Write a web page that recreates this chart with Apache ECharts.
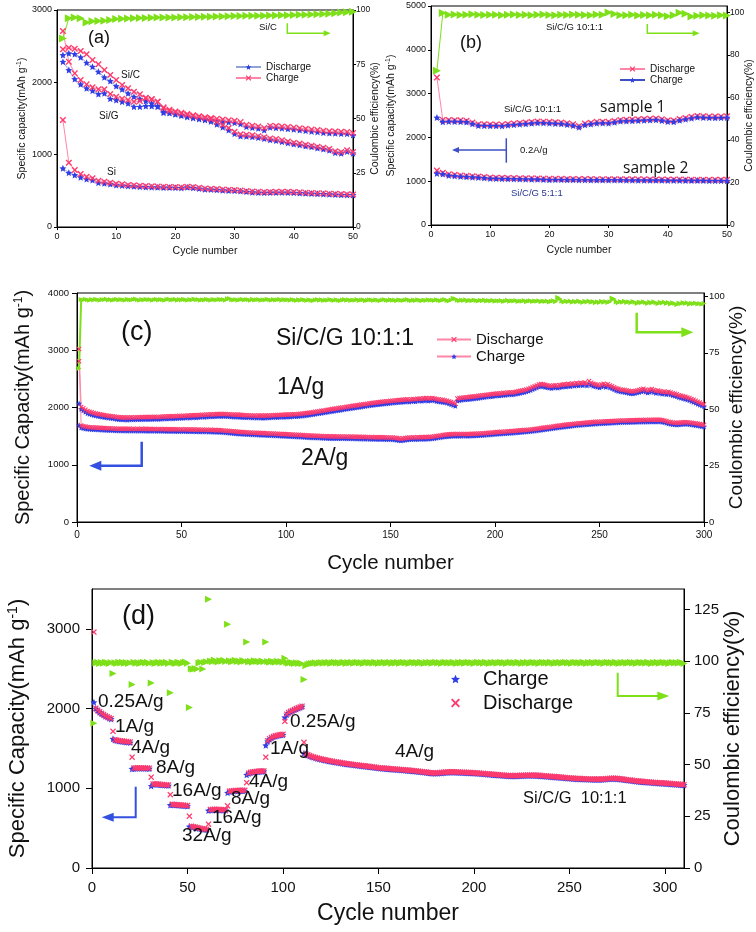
<!DOCTYPE html>
<html><head><meta charset="utf-8">
<script src="https://cdn.jsdelivr.net/npm/echarts@6/dist/echarts.min.js"></script>
<style>html,body{margin:0;padding:0;background:#fff}#c{width:756px;height:932px}</style>
</head><body><div id="c"></div>
<script>
// ---------------- DATA ----------------
// (a) 50 cycles
const a_SiC_dis=[2378,2401,2392,2346,2272,2217,2147,2069,2018,1949,1903,1848,1802,1774,1742,1710,1673,1594,1585,1565,1548,1530,1515,1500,1490,1478,1468,1458,1450,1442,1425,1387,1375,1365,1341,1378,1372,1366,1358,1350,1340,1332,1322,1315,1304,1298,1295,1292,1290,1272];
const a_SiC_chg=[2456,2479,2465,2433,2387,2309,2249,2170,2101,2032,1963,1917,1871,1834,1788,1765,1733,1654,1620,1598,1580,1562,1546,1530,1518,1506,1495,1485,1476,1468,1450,1412,1400,1390,1368,1398,1395,1390,1382,1374,1365,1357,1348,1340,1330,1324,1320,1316,1314,1298];
const a_SiG_dis=[2286,2170,2046,1972,1917,1885,1839,1848,1774,1756,1733,1710,1664,1664,1673,1673,1664,1581,1575,1558,1540,1522,1508,1494,1480,1460,1420,1380,1340,1290,1258,1255,1248,1236,1222,1205,1196,1180,1162,1147,1135,1120,1108,1092,1078,1060,1028,1018,1045,1018];
const a_SiG_chg=[2710,2286,2124,2032,1972,1931,1903,1903,1839,1802,1774,1756,1733,1742,1779,1765,1733,1640,1605,1588,1570,1552,1538,1524,1508,1488,1450,1410,1370,1318,1282,1276,1268,1256,1240,1225,1216,1200,1182,1166,1153,1138,1124,1110,1095,1078,1048,1036,1062,1036];
const a_Si_dis=[811,751,719,687,664,650,613,604,594,581,575,568,562,557,553,550,548,546,545,544,540,548,542,532,521,520,515,508,505,502,496,488,480,477,475,476,477,478,477,475,470,466,462,460,456,452,449,446,444,442];
const a_Si_chg=[1479,889,788,733,696,673,641,627,613,599,590,582,576,570,566,562,559,556,554,552,550,557,552,542,532,530,525,518,514,511,505,497,490,486,484,485,486,487,486,484,479,475,471,468,465,461,458,455,452,450];
const a_CE=[86.9,96.2,96.5,96.2,94.2,94.8,94.9,95.1,95.4,95.8,96.0,96.1,96.2,96.3,96.3,96.4,96.5,96.5,96.6,96.6,96.7,96.7,96.8,96.8,96.9,96.9,97.0,97.0,97.1,97.2,97.2,97.3,97.3,97.4,97.4,97.5,97.5,97.6,97.6,97.7,97.8,97.8,97.9,98.0,98.1,98.3,98.5,98.8,99.0,99.2];

// (b) 50 cycles
const b_S1_chg=[2454,2356,2365,2363,2360,2352,2310,2272,2268,2264,2265,2262,2280,2290,2302,2310,2322,2333,2330,2325,2318,2310,2295,2272,2234,2287,2305,2325,2326,2325,2345,2371,2374,2378,2385,2392,2396,2401,2385,2363,2356,2390,2416,2440,2462,2455,2450,2447,2450,2454];
const b_S1_dis=[3366,2400,2395,2392,2390,2382,2342,2300,2298,2294,2295,2292,2308,2320,2330,2340,2350,2362,2360,2355,2346,2340,2325,2302,2262,2315,2335,2355,2356,2355,2375,2400,2404,2408,2415,2420,2425,2430,2414,2392,2386,2420,2445,2470,2490,2485,2480,2477,2480,2484];
const b_S2_chg=[1178,1163,1132,1120,1109,1100,1093,1087,1075,1064,1060,1057,1054,1052,1049,1047,1045,1042,1039,1033,1035,1034,1032,1031,1030,1029,1028,1027,1027,1026,1026,1025,1024,1023,1022,1022,1021,1020,1019,1018,1018,1017,1016,1015,1015,1014,1013,1012,1012,1011];
const b_S2_dis=[1246,1195,1160,1145,1132,1122,1114,1107,1096,1085,1081,1077,1074,1072,1069,1067,1065,1062,1059,1054,1055,1054,1052,1051,1050,1049,1048,1047,1047,1046,1046,1045,1044,1043,1042,1042,1041,1040,1039,1038,1038,1037,1036,1035,1035,1034,1033,1032,1032,1031];
const b_CE=[72.5,99.7,98.9,99.0,98.8,98.9,99.1,98.9,98.8,98.9,98.9,98.7,98.9,99.0,98.8,98.9,98.7,98.9,99.0,98.8,98.7,98.9,98.8,99.0,98.9,98.8,98.7,99.0,98.9,100.0,99.2,98.6,98.7,98.9,98.5,98.8,98.7,98.9,98.6,98.2,98.7,99.8,99.4,98.1,98.4,98.6,98.5,98.4,98.6,98.5];

// (c) 300 cycles
const c_1A_chg=[2070,1975,1950,1925,1900,1890,1878,1868,1860,1852,
1845,1838,1832,1828,1823,1818,1812,1806,1800,1795,
1793,1790,1792,1788,1791,1794,1790,1793,1796,1794,
1797,1795,1799,1796,1800,1798,1802,1799,1800,1803,
1805,1808,1806,1810,1812,1809,1813,1815,1818,1817,
1820,1822,1825,1823,1828,1830,1827,1832,1835,1838,
1836,1840,1842,1845,1843,1848,1850,1852,1849,1852,
1850,1848,1845,1842,1840,1838,1840,1836,1833,1830,
1828,1830,1826,1824,1826,1822,1825,1823,1820,1823,
1826,1824,1828,1830,1833,1831,1835,1838,1836,1840,
1842,1840,1845,1848,1846,1850,1855,1858,1862,1867,
1872,1878,1883,1890,1895,1900,1906,1912,1918,1925,
1931,1936,1942,1948,1954,1958,1964,1970,1976,1982,
1988,1993,1998,2004,2009,2015,2020,2026,2031,2038,
2042,2046,2051,2055,2060,2064,2068,2071,2075,2080,
2084,2086,2090,2094,2096,2099,2103,2106,2100,2110,
2113,2108,2118,2121,2116,2124,2128,2120,2126,2130,
2122,2112,2106,2100,2098,2092,2084,2070,2058,2045,
2030,2120,2128,2134,2138,2142,2145,2150,2155,2158,
2162,2168,2172,2178,2182,2188,2192,2196,2200,2205,
2210,2208,2215,2220,2218,2225,2230,2227,2232,2240,
2246,2255,2262,2270,2280,2292,2305,2320,2335,2350,
2365,2375,2368,2360,2352,2345,2340,2348,2352,2345,
2355,2362,2370,2366,2378,2372,2384,2380,2392,2385,
2398,2390,2402,2385,2410,2395,2378,2370,2362,2350,
2365,2378,2360,2372,2350,2335,2318,2300,2290,2280,
2275,2270,2262,2255,2248,2245,2252,2262,2270,2282,
2290,2275,2260,2272,2285,2270,2255,2262,2250,2240,
2245,2232,2240,2228,2215,2205,2195,2180,2170,2160,
2150,2140,2128,2112,2098,2082,2065,2050,2035,2020];
const c_1A_dis=[3020,2010,1988,1962,1938,1925,1915,1905,1896,1888,
1880,1874,1868,1862,1858,1853,1848,1842,1836,1830,
1828,1826,1827,1824,1826,1829,1826,1828,1831,1830,
1832,1831,1834,1832,1836,1834,1838,1835,1836,1839,
1841,1843,1842,1846,1848,1845,1849,1851,1854,1853,
1856,1858,1861,1859,1864,1866,1863,1868,1871,1874,
1872,1876,1878,1881,1879,1884,1886,1888,1885,1888,
1886,1884,1881,1878,1876,1874,1876,1872,1869,1866,
1864,1866,1862,1860,1862,1858,1861,1859,1856,1859,
1862,1860,1864,1866,1869,1867,1871,1874,1872,1876,
1878,1876,1881,1884,1882,1886,1891,1894,1898,1903,
1908,1914,1919,1926,1931,1936,1942,1948,1954,1961,
1967,1972,1978,1984,1990,1994,2000,2006,2012,2018,
2024,2029,2034,2040,2045,2051,2056,2062,2067,2074,
2078,2082,2087,2091,2096,2100,2104,2107,2111,2116,
2120,2122,2126,2130,2132,2135,2139,2142,2136,2146,
2149,2144,2154,2157,2152,2160,2164,2156,2162,2166,
2158,2148,2142,2136,2134,2128,2120,2106,2094,2081,
2066,2156,2164,2170,2174,2178,2181,2186,2191,2194,
2198,2204,2208,2214,2218,2224,2228,2232,2236,2241,
2246,2244,2251,2256,2254,2261,2266,2263,2268,2276,
2282,2291,2298,2306,2316,2328,2341,2356,2371,2386,
2401,2411,2404,2396,2388,2381,2376,2384,2388,2381,
2391,2398,2406,2402,2414,2408,2420,2416,2428,2421,
2434,2426,2438,2421,2462,2431,2414,2406,2398,2386,
2401,2414,2396,2408,2386,2371,2354,2336,2326,2316,
2311,2306,2298,2291,2284,2281,2288,2298,2306,2318,
2326,2311,2296,2308,2321,2306,2291,2298,2286,2276,
2281,2268,2276,2264,2251,2241,2231,2216,2206,2196,
2186,2176,2164,2148,2134,2118,2101,2086,2071,2056];
const c_2A_chg=[1690,1650,1640,1632,1628,1625,1622,1620,1618,1616,
1614,1612,1610,1608,1606,1605,1603,1602,1600,1598,
1600,1597,1599,1596,1598,1595,1597,1594,1596,1595,
1597,1594,1596,1593,1595,1592,1594,1591,1593,1592,
1590,1592,1589,1591,1588,1590,1587,1589,1586,1588,
1585,1587,1584,1586,1583,1585,1582,1584,1580,1582,
1579,1581,1577,1579,1575,1577,1573,1575,1570,1568,
1565,1562,1558,1555,1552,1548,1545,1542,1540,1538,
1536,1534,1532,1530,1528,1527,1525,1523,1522,1520,
1518,1516,1515,1513,1511,1510,1508,1506,1505,1503,
1501,1499,1497,1495,1493,1491,1489,1487,1485,1482,
1480,1478,1477,1475,1474,1472,1471,1469,1468,1466,
1465,1464,1465,1463,1464,1462,1463,1461,1462,1460,
1461,1459,1460,1457,1458,1455,1456,1453,1454,1451,
1452,1450,1451,1449,1450,1448,1449,1447,1446,1445,
1443,1440,1436,1430,1425,1428,1435,1440,1444,1446,
1448,1447,1449,1450,1452,1451,1453,1455,1457,1460,
1465,1470,1476,1482,1488,1493,1497,1500,1503,1505,
1506,1504,1506,1505,1507,1508,1506,1508,1509,1510,
1512,1514,1516,1518,1521,1524,1527,1530,1534,1538,
1540,1542,1544,1546,1549,1552,1555,1558,1561,1564,
1567,1570,1573,1576,1579,1582,1586,1590,1595,1600,
1605,1610,1615,1620,1625,1630,1635,1640,1645,1650,
1655,1660,1665,1670,1674,1678,1682,1686,1690,1694,
1697,1700,1703,1706,1709,1712,1715,1718,1720,1722,
1724,1726,1728,1730,1732,1734,1736,1738,1740,1742,
1743,1744,1745,1746,1747,1748,1749,1750,1751,1752,
1752,1753,1753,1754,1754,1755,1755,1756,1756,1750,
1742,1732,1722,1714,1708,1704,1702,1704,1708,1712,
1714,1712,1708,1702,1697,1692,1686,1680,1674,1668];
const c_2A_dis=[2810,1685,1674,1666,1661,1657,1654,1651,1649,1647,
1645,1643,1641,1639,1637,1636,1634,1633,1631,1629,
1631,1628,1630,1627,1629,1626,1628,1625,1627,1626,
1628,1625,1627,1624,1626,1623,1625,1622,1624,1623,
1621,1623,1620,1622,1619,1621,1618,1620,1617,1619,
1616,1618,1615,1617,1614,1616,1613,1615,1611,1613,
1610,1612,1608,1610,1606,1608,1604,1606,1601,1599,
1596,1593,1589,1586,1583,1579,1576,1573,1571,1569,
1567,1565,1563,1561,1559,1558,1556,1554,1553,1551,
1549,1547,1546,1544,1542,1541,1539,1537,1536,1534,
1532,1530,1528,1526,1524,1522,1520,1518,1516,1513,
1511,1509,1508,1506,1505,1503,1502,1500,1499,1497,
1496,1495,1496,1494,1495,1493,1494,1492,1493,1491,
1492,1490,1491,1488,1489,1486,1487,1484,1485,1482,
1483,1481,1482,1480,1481,1479,1480,1478,1477,1476,
1474,1471,1467,1461,1456,1459,1466,1471,1475,1477,
1479,1478,1480,1481,1483,1482,1484,1486,1488,1491,
1496,1501,1507,1513,1519,1524,1528,1531,1534,1536,
1537,1535,1537,1536,1538,1539,1537,1539,1540,1541,
1543,1545,1547,1549,1552,1555,1558,1561,1565,1569,
1571,1572,1575,1577,1579,1583,1585,1589,1591,1595,
1597,1601,1603,1607,1609,1613,1616,1621,1625,1631,
1635,1641,1645,1651,1655,1661,1665,1671,1675,1681,
1685,1691,1695,1701,1704,1709,1712,1717,1720,1725,
1727,1731,1733,1737,1739,1743,1745,1749,1750,1753,
1754,1757,1758,1761,1762,1765,1766,1769,1770,1773,
1773,1775,1775,1777,1777,1779,1779,1781,1781,1783,
1782,1784,1783,1785,1784,1786,1785,1787,1786,1781,
1772,1763,1752,1745,1738,1735,1732,1735,1738,1743,
1744,1743,1738,1733,1727,1723,1716,1711,1704,1699];
const c_CE=[68.0,98.6,98.4,98.7,98.5,98.3,98.6,98.4,98.7,98.5,
98.3,98.6,98.5,98.8,98.4,98.6,98.3,98.5,98.7,98.4,
98.6,98.5,98.3,98.7,98.5,98.4,98.6,98.8,98.5,98.3,
98.6,98.4,98.7,98.5,98.6,98.3,98.5,98.7,98.4,98.6,
98.5,98.3,98.6,98.8,98.4,98.5,98.7,98.3,98.6,98.4,
98.7,98.5,98.3,98.6,98.4,98.8,98.5,98.6,98.3,98.5,
98.4,98.7,98.5,98.3,98.6,98.5,98.4,98.7,98.5,98.6,
98.3,98.9,99.1,98.5,98.4,98.6,98.3,98.5,98.7,98.4,
98.6,98.5,98.3,98.7,98.4,98.5,98.6,98.3,98.5,98.4,
98.7,98.5,98.3,98.6,98.4,98.5,98.7,98.3,98.6,98.4,
98.5,98.3,98.6,98.4,98.2,98.5,98.3,98.6,98.4,98.2,
98.5,98.3,98.1,98.4,98.6,98.3,98.5,98.2,98.4,98.3,
98.6,98.4,98.2,98.5,98.3,98.1,98.4,98.6,98.3,98.5,
98.2,98.4,98.3,98.6,98.2,98.4,98.5,98.1,98.3,98.5,
98.4,98.2,98.5,98.3,98.1,98.4,98.6,98.3,98.2,98.5,
98.3,98.4,98.1,98.5,98.3,98.2,98.4,98.6,98.3,98.1,
98.4,98.2,98.5,98.3,98.1,98.4,98.2,98.5,98.3,98.4,
98.2,98.5,98.3,98.1,98.4,98.6,98.2,98.0,98.4,99.2,
98.9,98.3,98.1,98.4,98.2,98.5,98.0,98.3,98.1,98.4,
98.2,97.9,98.3,98.1,98.4,97.9,98.2,98.0,98.3,97.8,
98.1,97.9,98.2,97.7,98.0,98.3,97.8,98.1,97.9,98.2,
97.7,98.0,97.8,98.2,97.6,97.9,98.1,97.7,98.0,97.8,
98.1,97.6,97.9,97.7,98.0,97.5,97.8,98.1,97.6,99.6,
99.0,97.8,97.5,97.9,97.6,98.0,97.4,97.8,97.5,97.9,
97.6,97.3,97.8,97.5,97.9,97.4,97.7,97.2,97.6,97.3,
97.8,97.4,97.7,97.3,97.6,99.3,98.8,97.5,97.2,97.7,
97.4,97.8,97.3,97.6,97.2,97.7,97.4,96.9,97.5,97.2,
97.6,97.3,96.8,97.5,97.1,97.6,97.2,96.7,97.4,97.1,
97.5,96.9,97.3,96.6,97.2,96.8,96.3,97.1,96.7,97.3,
96.8,97.2,96.5,97.0,96.7,97.1,96.6,96.9,96.5,96.8];

// (d) 310 cycles
const d_chg=[2080,2000,1975,1955,1935,1920,1905,1893,1880,1870,
1620,1605,1598,1594,1590,1587,1584,1581,1578,1575,
1245,1248,1250,1250,1251,1250,1250,1249,1248,1247,
1030,1048,1050,1048,1046,1044,1042,1040,1038,1036,
790,795,793,790,788,786,784,782,780,778,
520,518,513,508,502,497,492,488,484,480,
720,728,730,731,730,729,728,727,726,725,
945,958,962,965,966,967,968,968,969,970,
1170,1185,1195,1200,1204,1207,1209,1211,1212,1213,
1540,1590,1615,1632,1645,1653,1660,1665,1669,1672,
1890,1925,1945,1960,1972,1984,1995,2005,2015,2025,
1440,1425,1415,1405,1396,1388,1381,1374,1368,1362,
1357,1352,1347,1342,1337,1333,1329,1325,1321,1317,
1313,1309,1306,1302,1299,1296,1293,1290,1287,1284,
1281,1278,1275,1272,1269,1266,1263,1260,1257,1254,
1251,1249,1247,1245,1243,1241,1239,1237,1235,1233,
1231,1229,1227,1225,1223,1221,1219,1217,1215,1212,
1209,1206,1203,1200,1197,1194,1191,1189,1188,1188,
1189,1191,1193,1195,1197,1199,1200,1201,1201,1200,
1199,1198,1197,1196,1195,1194,1193,1192,1191,1190,
1188,1186,1184,1182,1180,1178,1176,1174,1172,1170,
1168,1166,1164,1162,1160,1158,1156,1155,1154,1153,
1153,1154,1155,1156,1157,1158,1159,1159,1160,1160,
1160,1159,1158,1157,1155,1153,1151,1149,1147,1145,
1143,1141,1139,1137,1135,1133,1131,1129,1127,1125,
1123,1121,1119,1118,1117,1116,1115,1114,1113,1112,
1111,1110,1110,1109,1109,1109,1110,1112,1114,1117,
1119,1120,1121,1120,1118,1115,1112,1109,1106,1103,
1100,1097,1094,1091,1088,1085,1083,1081,1079,1077,
1075,1073,1071,1069,1067,1065,1063,1062,1061,1060,
1058,1056,1054,1052,1050,1048,1046,1044,1042,1040];
const d_dis=[2960,2005,1980,1960,1940,1925,1910,1898,1885,1875,
1715,1610,1603,1599,1595,1592,1589,1586,1583,1580,
1390,1253,1255,1255,1256,1255,1255,1254,1253,1252,
1140,1053,1055,1053,1051,1049,1047,1045,1043,1041,
920,800,798,795,793,791,789,787,785,783,
650,525,518,513,507,502,497,493,489,485,
550,733,735,736,735,734,733,732,731,730,
780,963,967,970,971,972,973,973,974,975,
1070,1190,1200,1205,1209,1212,1214,1216,1217,1218,
1390,1595,1620,1637,1650,1658,1665,1670,1674,1677,
1840,1930,1950,1965,1977,1989,2000,2010,2020,2030,
1576,1430,1420,1410,1401,1393,1386,1379,1373,1367,
1362,1358,1352,1347,1343,1338,1334,1331,1326,1322,
1318,1315,1311,1307,1305,1301,1298,1296,1292,1289,
1286,1284,1280,1277,1275,1271,1268,1266,1262,1259,
1256,1255,1252,1250,1249,1246,1244,1243,1240,1238,
1236,1235,1232,1230,1229,1226,1224,1223,1220,1217,
1214,1212,1208,1205,1203,1199,1196,1195,1193,1193,
1194,1197,1198,1200,1203,1204,1205,1207,1206,1205,
1204,1204,1202,1201,1201,1199,1198,1198,1196,1195,
1193,1192,1189,1187,1186,1183,1181,1180,1177,1175,
1173,1172,1169,1167,1166,1163,1161,1161,1159,1158,
1158,1160,1160,1161,1163,1163,1164,1165,1165,1165,
1165,1165,1163,1162,1161,1158,1156,1155,1152,1150,
1148,1147,1144,1142,1141,1138,1136,1135,1132,1130,
1128,1127,1124,1123,1123,1121,1120,1120,1118,1117,
1116,1116,1115,1114,1115,1114,1115,1118,1119,1122,
1124,1126,1126,1125,1124,1120,1117,1115,1111,1108,
1105,1103,1099,1096,1094,1090,1088,1087,1084,1082,
1080,1079,1076,1074,1073,1070,1068,1068,1066,1065,
1063,1062,1059,1057,1056,1053,1051,1050,1047,1045];
const d_CE=[70.0,99.2,99.5,99.0,99.4,99.1,99.6,99.3,99.0,99.4,
94.1,99.3,99.0,99.5,99.2,99.6,99.1,99.4,99.0,99.3,
88.8,99.5,99.1,99.4,99.0,99.3,99.6,99.2,99.5,99.1,
89.5,99.4,99.0,99.3,99.6,99.1,99.4,99.2,99.5,99.0,
84.8,99.6,99.2,99.0,99.5,99.3,98.9,99.4,99.7,99.1,
77.7,96.4,96.2,96.5,96.3,99.2,99.6,96.3,99.4,99.8,
130.0,100.2,99.8,100.6,100.1,99.7,100.4,100.0,100.5,99.9,
118.0,100.3,99.8,100.1,100.5,99.9,100.2,99.7,100.4,100.0,
109.4,99.8,100.1,99.6,100.3,99.9,100.0,99.7,100.2,99.8,
109.4,99.9,99.6,100.1,99.8,99.5,100.0,99.7,99.9,99.6,
101.5,99.4,99.1,99.5,99.2,98.9,99.3,99.0,99.2,98.8,
91.2,97.9,98.5,98.8,99.0,99.1,99.3,99.0,99.2,99.4,
99.1,99.4,99.2,99.5,99.0,99.3,99.6,99.2,99.4,99.1,
99.3,99.5,99.0,99.4,99.2,99.6,99.1,99.3,99.5,99.2,
99.4,99.0,99.3,99.6,99.2,99.4,99.1,99.5,99.3,99.0,
99.4,99.2,99.6,99.1,99.3,99.5,99.0,99.4,99.2,99.6,
99.1,99.3,99.5,99.2,99.4,99.0,99.3,99.6,99.2,99.4,
99.1,99.5,99.3,99.0,99.4,99.2,99.6,99.1,99.3,99.5,
99.2,99.4,99.0,99.3,99.6,99.2,99.4,99.1,99.5,99.3,
99.0,99.4,99.2,99.6,99.1,99.3,99.5,99.2,99.4,99.0,
99.3,99.6,99.2,99.4,99.1,99.5,99.3,99.0,99.4,99.2,
99.6,99.1,99.3,99.5,99.2,99.4,99.0,99.3,99.6,99.2,
99.4,99.1,99.5,99.3,99.0,99.4,99.2,99.6,99.1,99.3,
99.5,99.2,99.4,99.0,99.3,99.6,99.2,99.4,99.1,99.5,
99.3,99.0,99.4,99.2,99.6,99.1,99.3,99.5,99.2,99.4,
99.0,99.3,99.6,99.2,99.4,99.1,99.5,99.3,99.0,99.4,
99.2,99.6,99.1,99.3,99.5,99.2,99.4,99.0,99.3,99.6,
99.2,99.4,99.1,99.5,99.3,99.0,99.4,99.2,99.6,99.1,
99.3,99.5,99.2,99.4,99.0,99.3,99.6,99.2,99.4,99.1,
99.5,99.3,99.0,99.4,99.2,99.6,99.1,99.3,99.5,99.2,
99.4,99.0,99.3,99.6,99.2,99.4,99.1,99.5,99.3,99.0];

// ---------------- STYLE ----------------
const F = "'Liberation Sans', Arial, sans-serif";
const STAR = 'path://M10,0L12.9,6.9L20,7.6L14.6,12.3L16.2,19.3L10,15.6L3.8,19.3L5.4,12.3L0,7.6L7.1,6.9Z';
const XMARK = 'path://M3,0L10,7L17,0L20,3L13,10L20,17L17,20L10,13L3,20L0,17L7,10L0,3Z';
const BLUE='#2f3ee6', BLUE_L='#8fa3d8', BLUE_D='#3c4fc4', PINK='#ff3a6c', PINK_L='#ff86a6', GREEN='#7ee019', INK='#111';

const pairs = arr => arr.map((v,i)=>[i+1,v]);
const plain = v => String(v);

function xAx(gi,max,interval,o){
  return {gridIndex:gi,type:'value',min:0,max:max,interval:interval,name:'Cycle number',nameLocation:'middle',
    nameGap:o.nameGap,nameMoveOverlap:false,nameTextStyle:{fontSize:o.nameSize,fontFamily:F,color:INK},
    axisLine:{onZero:false,lineStyle:{color:'#000',width:1}},
    axisTick:{show:true,inside:false,length:o.tick,lineStyle:{color:'#000'}},
    axisLabel:{fontSize:o.fs,fontFamily:F,color:INK,margin:o.margin,hideOverlap:false,formatter:plain},
    splitLine:{show:false}};
}
function yAx(gi,pos,max,interval,name,o){
  return {gridIndex:gi,type:'value',position:pos,min:0,max:max,interval:interval,name:name,nameLocation:'middle',
    nameGap:o.nameGap,nameMoveOverlap:false,
    nameTextStyle:{fontSize:o.nameSize,fontFamily:F,color:INK,
      rich:{n:{fontSize:o.nameSize,fontFamily:F,color:INK},
            s:{fontSize:Math.round(o.nameSize*0.62),fontFamily:F,color:INK,verticalAlign:'top',padding:[0,0,Math.round(o.nameSize*0.45),0]}}},
    axisLine:{show:true,onZero:false,lineStyle:{color:'#000',width:1}},
    axisTick:{show:true,inside:false,length:o.tick,lineStyle:{color:'#000'}},
    axisLabel:{fontSize:o.fs,fontFamily:F,color:INK,margin:o.margin,showMaxLabel:o.showMax!==false,hideOverlap:false,formatter:plain},
    splitLine:{show:false}};
}
const capName = s => '{n|'+s+'(mAh g}{s|-1}{n|)}';

const gridBase = {show:true,borderColor:'#000',borderWidth:1,containLabel:false,outerBoundsMode:'none'};
const grids = [
  Object.assign({left:57,right:403,top:10,bottom:705},gridBase),
  Object.assign({left:431,right:29,top:6,bottom:707},gridBase),
  Object.assign({left:77,right:52,top:293,bottom:410},gridBase),
  Object.assign({left:92,right:72,top:589,bottom:64},gridBase)
];

const xAxes=[
  xAx(0,50,10,{fs:9,margin:5,tick:3,nameSize:10.5,nameGap:19}),
  xAx(1,50,10,{fs:9,margin:5,tick:3,nameSize:10.5,nameGap:20}),
  xAx(2,300,50,{fs:10,margin:8,tick:5,nameSize:20.5,nameGap:31}),
  xAx(3,310,50,{fs:15,margin:12,tick:6,nameSize:23,nameGap:34})
];
const yAxes=[
  yAx(0,'left',3000,1000,capName('Specific capacity'),{fs:9,margin:5,tick:3,nameSize:10.5,nameGap:29}),
  yAx(0,'right',100,25,'Coulombic efficiency(%)',{fs:8.5,margin:3,tick:3,nameSize:10.5,nameGap:17}),
  yAx(1,'left',5000,1000,capName('Specific capacity'),{fs:9,margin:5,tick:3,nameSize:10.5,nameGap:34}),
  yAx(1,'right',103,20,'Coulombic efficiency(%)',{fs:8.5,margin:3,tick:3,nameSize:10.5,nameGap:17,showMax:false}),
  yAx(2,'left',4000,1000,capName('Specific Capacity'),{fs:9.5,margin:8,tick:5,nameSize:20,nameGap:43}),
  yAx(2,'right',101.5,25,'Coulombic efficiency(%)',{fs:9.5,margin:5,tick:4,nameSize:19,nameGap:23,showMax:false}),
  yAx(3,'left',3500,1000,capName('Specific Capacity'),{fs:15,margin:12,tick:6,nameSize:22,nameGap:62,showMax:false}),
  yAx(3,'right',135,25,'Coulombic efficiency(%)',{fs:15,margin:10,tick:6,nameSize:22,nameGap:38,showMax:false})
];

function lineS(name,xi,yi,data,sym,size,col,lcol,lw,extra){
  return Object.assign({name:name,type:'line',xAxisIndex:xi,yAxisIndex:yi,data:pairs(data),symbol:sym,symbolSize:size,
    showAllSymbol:true,itemStyle:{color:col},lineStyle:{color:lcol,width:lw},emphasis:{disabled:true},animation:false},extra||{});
}
function scatS(name,xi,yi,data,sym,size,col,extra){
  return Object.assign({name:name,type:'scatter',xAxisIndex:xi,yAxisIndex:yi,data:pairs(data),symbol:sym,symbolSize:size,
    itemStyle:{color:col,opacity:1},emphasis:{disabled:true},animation:false},extra||{});
}
const tri = {symbolRotate:-90};

const series=[
  // (a)
  lineS('a:Discharge',0,0,a_SiC_dis,STAR,7,BLUE,BLUE_L,1),
  lineS('a:Charge',0,0,a_SiC_chg,XMARK,6.5,PINK,PINK_L,1),
  lineS('a:Discharge2',0,0,a_SiG_dis,STAR,7,BLUE,BLUE_L,1),
  lineS('a:Charge2',0,0,a_SiG_chg,XMARK,6.5,PINK,PINK_L,1),
  lineS('a:Discharge3',0,0,a_Si_dis,STAR,7,BLUE,BLUE_L,1),
  lineS('a:Charge3',0,0,a_Si_chg,XMARK,6.5,PINK,PINK_L,1),
  lineS('a:CE',0,1,a_CE,'triangle',8,GREEN,GREEN,1,tri),
  // (b)
  lineS('b:Discharge',1,2,b_S1_dis,XMARK,6.5,PINK,PINK_L,1),
  lineS('b:Charge',1,2,b_S1_chg,STAR,7,BLUE,BLUE_D,1),
  lineS('b:Discharge2',1,2,b_S2_dis,XMARK,6.5,PINK,PINK_L,1),
  lineS('b:Charge2',1,2,b_S2_chg,STAR,7,BLUE,BLUE_D,1),
  lineS('b:CE',1,3,b_CE,'triangle',8,GREEN,GREEN,1,tri),
  // (c)
  lineS('c:Charge',2,4,c_1A_chg,STAR,6,BLUE,PINK_L,1),
  lineS('c:Charge2',2,4,c_2A_chg,STAR,6,BLUE,PINK_L,1),
  lineS('c:Discharge',2,4,c_1A_dis,XMARK,5,PINK,PINK_L,1),
  lineS('c:Discharge2',2,4,c_2A_dis,XMARK,5,PINK,PINK_L,1),
  lineS('c:CE',2,5,c_CE,'triangle',5,GREEN,GREEN,2,tri),
  // (d)
  scatS('d:Charge',3,6,d_chg,STAR,7,BLUE),
  scatS('d:Discharge',3,6,d_dis,XMARK,6,PINK),
  scatS('d:CE',3,7,d_CE,'triangle',7,GREEN,tri)
];

const lg = n => n.split(':')[1];
const legends=[
  {data:['a:Discharge','a:Charge'],left:235,top:62,padding:0,orient:'vertical',itemWidth:25,itemHeight:7,itemGap:1,selectedMode:false,formatter:lg,textStyle:{fontSize:10,fontFamily:F,color:INK}},
  {data:['b:Discharge','b:Charge'],left:619,top:64,padding:0,orient:'vertical',itemWidth:25,itemHeight:7,itemGap:1,selectedMode:false,formatter:lg,textStyle:{fontSize:10,fontFamily:F,color:INK}},
  {data:['c:Discharge','c:Charge'],left:436,top:332,padding:0,orient:'vertical',itemWidth:34,itemHeight:7,itemGap:2,selectedMode:false,formatter:lg,textStyle:{fontSize:15,fontFamily:F,color:INK}},
  {data:['d:Charge','d:Discharge'],left:451,top:669,padding:0,orient:'vertical',itemWidth:9,itemHeight:9,itemGap:4,selectedMode:false,formatter:lg,textStyle:{fontSize:20,fontFamily:F,color:INK,padding:[0,0,0,18]}}
];

// ---------------- ANNOTATIONS ----------------
const ann=[];
function txt(x,y,s,size,ff,color){ann.push({type:'text',x:x,y:y,z:50,silent:true,style:{text:s,fontSize:size,fontFamily:ff,fill:color||INK,align:'left',verticalAlign:'middle'}});}
function seg(pts,color,lw){ann.push({type:'polyline',z:50,silent:true,shape:{points:pts},style:{stroke:color,lineWidth:lw,fill:null}});}
function arrow(pts,color,lw,hl,hw){
  const n=pts.length, t=pts[n-1], p=pts[n-2];
  const dx=t[0]-p[0], dy=t[1]-p[1], L=Math.hypot(dx,dy), ux=dx/L, uy=dy/L;
  const bx=t[0]-ux*hl, by=t[1]-uy*hl;
  const body=pts.slice(0,n-1).concat([[bx+ux*1,by+uy*1]]);
  seg(body,color,lw);
  ann.push({type:'polygon',z:50,silent:true,shape:{points:[[t[0],t[1]],[bx-uy*hw,by+ux*hw],[bx+uy*hw,by-ux*hw]]},style:{fill:color}});
}
// (a)
txt(88,38,'(a)',18,F);
txt(259,27,'Si/C',9.5,F);
txt(121,75,'Si/C',10,F);
txt(99,116,'Si/G',10,F);
txt(107,172,'Si',10,F);
arrow([[287.3,23.3],[287.3,33.3],[330.7,33.3]],GREEN,1.5,7,3);
// (b)
txt(460,43,'(b)',18,F);
txt(546,27,'Si/C/G 10:1:1',9.5,F);
txt(504,109,'Si/C/G 10:1:1',9.5,F);
txt(600,108,'sample 1',15.5,"'Open Sans', sans-serif");
txt(623,169,'sample 2',15.5,"'Open Sans', sans-serif");
txt(511,193,'Si/C/G 5:1:1',9.5,F,'#283593');
txt(520,150,'0.2A/g',9.5,F);
seg([[506.3,138.3],[506.3,162.7]],BLUE_D,1.5);
arrow([[506.3,150],[452,150]],BLUE_D,1.5,7,3);
arrow([[647.3,24],[647.3,33.3],[699.7,33.3]],GREEN,1.5,7,3);
// (c)
txt(121,333,'(c)',27,F);
txt(276,339,'Si/C/G 10:1:1',23,F);
txt(277,388,'1A/g',23,F);
txt(301,459,'2A/g',23,F);
arrow([[636.7,312.7],[636.7,332.3],[693.3,332.3]],GREEN,2.5,12,5);
arrow([[141.7,441.7],[141.7,465.7],[89.3,465.7]],'#3350e0',2.5,12,5);
// (d)
txt(122,617,'(d)',27,F);
txt(98,702,'0.25A/g',19,F);
txt(115,727,'1A/g',19,F);
txt(131,748,'4A/g',19,F);
txt(156,768,'8A/g',19,F);
txt(172,791,'16A/g',19,F);
txt(182,836,'32A/g',19,F);
txt(212,818,'16A/g',19,F);
txt(231,799,'8A/g',19,F);
txt(249,782,'4A/g',19,F);
txt(270,749,'1A/g',19,F);
txt(290,722,'0.25A/g',19,F);
txt(395,752,'4A/g',19,F);
txt(523,798,'Si/C/G  10:1:1',16.5,F);
arrow([[617.7,672.7],[617.7,696],[669.3,696]],GREEN,2,12,4.5);
arrow([[135.7,786.7],[135.7,817.3],[101.7,817.3]],'#3350e0',2,12,4.5);

const chart=echarts.init(document.getElementById('c'),null,{renderer:'canvas'});
chart.setOption({
  animation:false,backgroundColor:'#fff',
  grid:grids,xAxis:xAxes,yAxis:yAxes,legend:legends,series:series,graphic:{elements:ann}
});
</script></body></html>
